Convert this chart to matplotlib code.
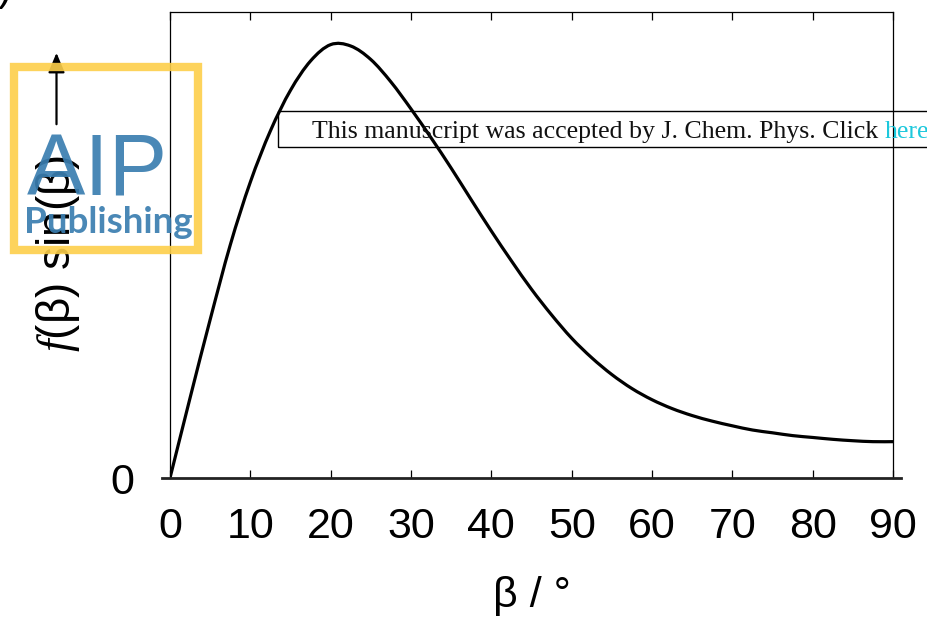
import matplotlib
matplotlib.use("Agg")
import matplotlib.pyplot as plt
from matplotlib.patches import Rectangle, FancyArrowPatch, PathPatch
from matplotlib.path import Path

plt.rcParams['mathtext.fontset'] = 'custom'
plt.rcParams['mathtext.it'] = 'Liberation Serif:italic'
plt.rcParams['mathtext.rm'] = 'Liberation Sans'

# data
beta_deg = [0, 2.5, 5, 7.5, 10, 12.5, 15, 17.5, 20, 22.5, 25, 27.5, 30, 32.5,
            35, 37.5, 40, 42.5, 45, 47.5, 50, 52.5, 55, 57.5, 60, 62.5, 65,
            67.5, 70, 72.5, 75, 77.5, 80, 82.5, 85, 87.5, 90]
f_sin = [0.0, 0.172, 0.340, 0.500, 0.635, 0.745, 0.832, 0.895, 0.930, 0.927,
         0.898, 0.850, 0.792, 0.730, 0.665, 0.597, 0.530, 0.466, 0.405, 0.350,
         0.300, 0.258, 0.222, 0.192, 0.168, 0.149, 0.134, 0.122, 0.112, 0.103,
         0.097, 0.091, 0.087, 0.083, 0.080, 0.078, 0.078]
xticks = [0, 10, 20, 30, 40, 50, 60, 70, 80, 90]
yticks = [0]

W, H = 928, 621
fig = plt.figure(figsize=(W / 100, H / 100), dpi=100)

def fx(x):
    return x / W

def fy(y):
    return 1 - y / H

L, R, T, B = 170, 893, 12, 478
ax = fig.add_axes([fx(L), fy(B), (R - L) / W, (B - T) / H])
ax.set_xlim(0, 90)
ax.set_ylim(0, 1)

# smooth curve through the read points (Catmull-Rom as cubic Bezier segments)
pts = list(zip(beta_deg, f_sin))
n = len(pts)
verts = [pts[0]]
codes = [Path.MOVETO]
for i in range(n - 1):
    p0 = pts[i - 1] if i > 0 else pts[i]
    p1 = pts[i]
    p2 = pts[i + 1]
    p3 = pts[i + 2] if i + 2 < n else pts[i + 1]
    c1 = (p1[0] + (p2[0] - p0[0]) / 6, p1[1] + (p2[1] - p0[1]) / 6)
    c2 = (p2[0] - (p3[0] - p1[0]) / 6, p2[1] - (p3[1] - p1[1]) / 6)
    verts += [c1, c2, p2]
    codes += [Path.CURVE4, Path.CURVE4, Path.CURVE4]
ax.add_patch(PathPatch(Path(verts, codes), facecolor='none', edgecolor='black',
                       lw=2.3, zorder=3))

for s in ['left', 'top', 'right']:
    ax.spines[s].set_linewidth(0.9)
ax.spines['bottom'].set_visible(False)
ax.axhline(0, xmin=-0.011, xmax=1.011, color='#222222', lw=2.0, clip_on=False, zorder=4)

ax.set_xticks(xticks)
ax.set_xticklabels([str(t) for t in xticks])
ax.set_yticks(yticks)
ax.set_yticklabels(['0'])
ax.tick_params(axis='x', which='both', direction='in', length=6, width=0.9,
               top=True, bottom=True, labelsize=31, pad=21)
ax.tick_params(axis='y', length=0, labelsize=31, pad=26)
for lab in ax.get_xticklabels() + ax.get_yticklabels():
    lab.set_fontfamily('Liberation Sans')

ax.set_xlabel('β / °', fontsize=31, fontfamily='Liberation Sans', labelpad=21)

# y label with arrow
fig.text(fx(58), fy(253), r'$f$(β) sin(β)', rotation=90, ha='center', va='center',
         fontsize=33, fontfamily='Liberation Sans')
arr = FancyArrowPatch((fx(56.5), fy(127)), (fx(56.5), fy(50)), transform=fig.transFigure,
                      arrowstyle='-|>,head_length=0.6,head_width=0.25', lw=1.6,
                      color='black', mutation_scale=20)
fig.patches.append(arr)

# cut-off panel label
fig.text(fx(12), 1.0, ')', ha='right', va='baseline', fontsize=31,
         fontfamily='Liberation Sans')

# AIP Publishing logo overlay
fig.patches.append(Rectangle((fx(14), fy(250)), (198.5 - 14) / W, (250 - 66.5) / H,
                             transform=fig.transFigure, fill=False,
                             edgecolor='#FDCF4A', lw=6, alpha=0.9, zorder=10))
fig.text(fx(27), fy(195), 'AIP', ha='left', va='baseline', fontsize=63,
         fontfamily='Liberation Sans', color='#3A7EB0', alpha=0.92, zorder=11)
fig.text(fx(24), fy(233), 'Publishing', ha='left', va='baseline', fontsize=26.5,
         fontfamily='Lato', fontweight='bold', color='#3A7EB0', alpha=0.92, zorder=11)

# accepted-manuscript banner
fig.patches.append(Rectangle((fx(278), fy(147)), (W + 20 - 278) / W, (147 - 111) / H,
                             transform=fig.transFigure, fill=False,
                             edgecolor='black', lw=1.0, zorder=9))
t1 = fig.text(fx(312), fy(138), 'This manuscript was accepted by J. Chem. Phys. Click ',
              ha='left', va='baseline', fontsize=18.6, fontfamily='Liberation Serif',
              color='#111111', zorder=9)
fig.canvas.draw()
bb = t1.get_window_extent()
fig.text(bb.x1 / W, fy(138), 'here', ha='left', va='baseline', fontsize=18.6,
         fontfamily='Liberation Serif', color='#1CC8DC', zorder=9)

fig.savefig('out.png', dpi=100)
